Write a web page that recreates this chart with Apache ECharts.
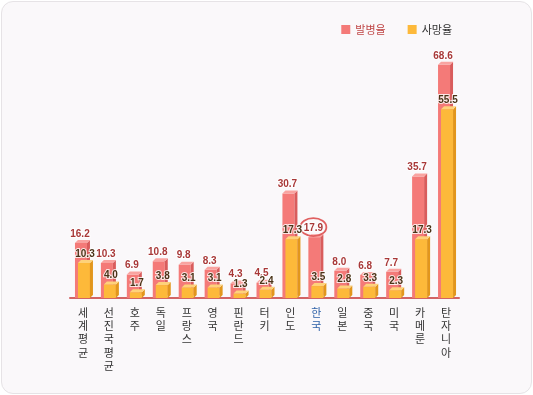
<!DOCTYPE html>
<html><head><meta charset="utf-8">
<script src="https://cdn.jsdelivr.net/npm/echarts@6/dist/echarts.min.js"></script>
<style>
html,body{margin:0;padding:0;background:#fff;}
#wrap{position:absolute;left:1px;top:1px;width:529px;height:391px;border:1px solid #e6e3e6;border-radius:12px;background:#faf8fa;}
#c{position:absolute;left:0;top:0;width:533px;height:395px;}
</style></head>
<body>
<div id="wrap"></div>
<div id="c"></div>
<script>
const categories = ['세계평균','선진국평균','호주','독일','프랑스','영국','핀란드','터키','인도','한국','일본','중국','미국','카메룬','탄자니아'];
const incidence = [16.2,10.3,6.9,10.8,9.8,8.3,4.3,4.5,30.7,17.9,8.0,6.8,7.7,35.7,68.6];
const mortality = [10.3,4.0,1.7,3.8,3.1,3.1,1.3,2.4,17.3,3.5,2.8,3.3,2.3,17.3,55.5];
const highlight = '한국';

const chart = echarts.init(document.getElementById('c'), null, {renderer:'canvas'});
const FONT = '"Noto Sans CJK KR", "Noto Sans", sans-serif';
const NUMFONT = '"Liberation Sans", Arial, sans-serif';

function make3D(opts){
  return function(params, api){
    const idx = api.value(0), val = api.value(1);
    const top = api.coord([idx, val]);
    const base = api.coord([idx, 0]);
    const x0 = top[0] + opts.off, w = 12, d = 3;
    const y0 = top[1], y1 = base[1];
    const children = [
      {type:'rect', shape:{x:x0, y:y0, width:w, height:y1-y0}, style:{fill:opts.front}},
      {type:'polygon', shape:{points:[[x0+w,y0],[x0+w+d,y0-d],[x0+w+d,y1-d],[x0+w,y1]]}, style:{fill:opts.side}},
      {type:'polygon', shape:{points:[[x0,y0],[x0+d,y0-d],[x0+w+d,y0-d],[x0+w,y0]]}, style:{fill:opts.topc}},
      {type:'text', x:x0+w/2+opts.lx, y:y0-d-1, style:{text:val.toFixed(1), fill:opts.lc, font:'bold 10px '+NUMFONT, align:'center', verticalAlign:'bottom', stroke:'rgba(255,255,255,0.8)', lineWidth:2}, z2:10}
    ];
    if (opts.circle && categories[idx] === highlight){
      children.push({type:'ellipse', shape:{cx:x0+w/2+opts.lx, cy:y0-d-7, rx:13, ry:9}, style:{fill:'none', stroke:'#e06060', lineWidth:1.8}});
    }
    return {type:'group', children};
  };
}

chart.setOption({
  animation:false,
  grid:{left:70, right:74, top:60, bottom:97},
  legend:{
    top:19, right:76, itemWidth:9, itemHeight:9, itemGap:22,
    textStyle:{fontFamily:FONT, fontSize:11},
    data:[
      {name:'발병율', icon:'rect', itemStyle:{color:'#f47a78'}, textStyle:{color:'#c04848'}},
      {name:'사망율', icon:'rect', itemStyle:{color:'#fdb93a'}, textStyle:{color:'#333'}}
    ]
  },
  xAxis:{
    type:'category', data:categories,
    axisLine:{lineStyle:{color:'#d26464', width:2}},
    axisTick:{show:false},
    axisLabel:{
      interval:0, margin:8, fontFamily:FONT, fontSize:11, lineHeight:13.3,
      color:(v)=> v===highlight ? '#2f62a8' : '#333',
      formatter:v => v.split('').join('\n')
    }
  },
  yAxis:{type:'value', min:0, max:70, show:false, splitLine:{show:false}},
  series:[
    {name:'발병율', type:'custom', color:'#f47a78', z:2,
     renderItem: make3D({off:-8, front:'#f47a78', side:'#d95c5c', topc:'#f9a3a0', lc:'#a83838', lx:-1, circle:true}),
     data: incidence.map((v,i)=>[i,v])},
    {name:'사망율', type:'custom', color:'#fdb93a', z:3,
     renderItem: make3D({off:-5, front:'#fdb93a', side:'#e2961c', topc:'#fed27a', lc:'#4a3418', lx:1}),
     data: mortality.map((v,i)=>[i,v])}
  ]
});
</script>
</body></html>
